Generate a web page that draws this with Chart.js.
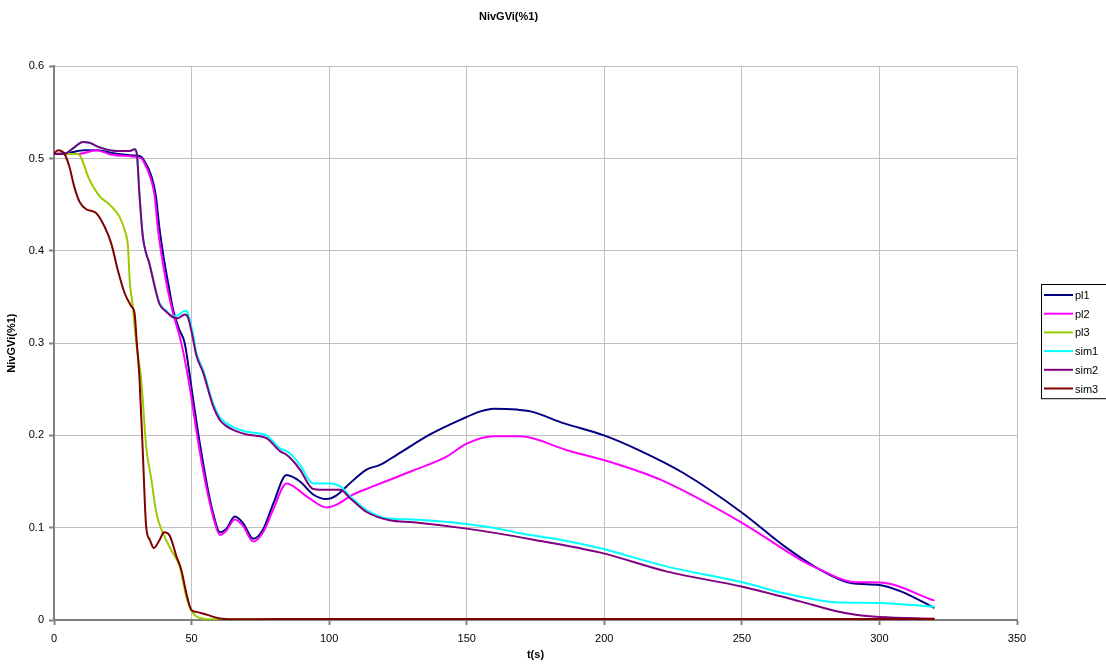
<!DOCTYPE html>
<html>
<head>
<meta charset="utf-8">
<title>NivGVi(%1)</title>
<script src="https://cdn.jsdelivr.net/npm/chart.js@4"></script>
<style>
  html, body { margin: 0; padding: 0; background: #ffffff; }
  #wrap { width: 1106px; height: 665px; }
</style>
</head>
<body>
<div id="wrap"><canvas id="c" width="1106" height="665"></canvas></div>
<script>
// Series: time (s) and level for each run
const pl1T = [0,5,11,16,21,26,30,31.5,32.5,35.5,37,38.3,40,41.8,43.3,45.5,47.5,49.9,52,54.2,56,57.8,60.3,62.7,65.7,68.7,72.4,76,79.7,84.5,89.4,94.2,99,102.7,106.4,113.6,118.5,124.6,136.7,147.8,155,159.8,168.3,173.2,185.4,199.9,213.3,228.9,250.2,265.4,277.5,289.7,300,307.8,320];
const pl1V = [0.505,0.506,0.509,0.509,0.506,0.504,0.503,0.502,0.499,0.480,0.460,0.425,0.390,0.360,0.336,0.315,0.300,0.253,0.210,0.170,0.140,0.116,0.095,0.099,0.112,0.105,0.088,0.098,0.126,0.157,0.150,0.136,0.131,0.135,0.145,0.163,0.168,0.179,0.201,0.217,0.226,0.229,0.228,0.226,0.213,0.200,0.183,0.159,0.116,0.080,0.056,0.040,0.038,0.031,0.013];

const pl2T = [0,5,9.3,15.3,21,28.7,31.7,32.3,35.3,36.6,37.8,39.6,41.4,43.3,45.7,47,49.3,51.7,54,56,58,60.3,62.7,65.7,68.7,72.4,76,79.7,84.5,91.8,99,102.7,108.8,116.1,130.6,142.7,150,159.8,169.4,186.4,203.5,220.4,250.2,271.5,277.5,291,300,320];
const pl2V = [0.505,0.505,0.505,0.509,0.504,0.502,0.500,0.498,0.477,0.459,0.423,0.386,0.357,0.332,0.307,0.290,0.253,0.206,0.165,0.135,0.110,0.092,0.097,0.109,0.102,0.085,0.095,0.120,0.148,0.134,0.122,0.125,0.136,0.145,0.162,0.177,0.191,0.199,0.199,0.184,0.170,0.152,0.105,0.065,0.056,0.041,0.0407,0.021];

const pl3T = [0,8.7,12.9,16.6,20.2,23.8,25.7,26.9,27.5,28.5,29.9,31.7,33.5,35.4,37.2,39.6,43.3,45.7,48.1,49.9,52.9,57.8,70,100,150,200,250,300,320];
const pl3V = [0.505,0.505,0.477,0.459,0.450,0.437,0.422,0.404,0.368,0.343,0.300,0.260,0.188,0.152,0.116,0.094,0.072,0.058,0.025,0.0103,0.0023,0.0007,0.0008,0.001,0.001,0.001,0.001,0.001,0.001];

const sim1T = [0,3.8,6.9,10.5,12.9,16.6,20.2,27.5,29.3,30.1,31.1,32.3,33.5,34.5,37.2,38.4,40.8,43.3,45.1,47.5,48.7,50.5,51.7,54.2,57.8,60.2,62.7,65.1,70,77.2,82.1,84.5,87,89.4,94.2,100.3,104,107.6,113.6,121,130.6,140.3,150,159.8,169.4,184,198.6,222.9,250.2,265.4,277.5,283.6,299.9,320];
const sim1V = [0.505,0.505,0.511,0.518,0.517,0.512,0.509,0.508,0.510,0.505,0.459,0.415,0.397,0.388,0.354,0.343,0.335,0.329,0.330,0.335,0.332,0.310,0.290,0.271,0.235,0.220,0.213,0.209,0.204,0.200,0.186,0.183,0.177,0.168,0.148,0.148,0.145,0.134,0.119,0.110,0.109,0.107,0.104,0.100,0.094,0.087,0.0777,0.0578,0.0408,0.0289,0.0217,0.0192,0.0185,0.0144];

const sim2T = [0,3.8,6.9,10.5,12.9,16.6,20.2,27.5,29.3,30.1,31.1,32.3,33.5,34.5,37.2,38.4,40.8,43.3,45.1,47.5,48.7,50.5,51.7,54.2,57.8,60.2,62.7,65.1,70,77.2,82.1,84.5,87,89.4,94.2,100.3,104,107.6,113.6,122,130.6,150,174.3,198.6,222.9,250.2,271.5,283.6,292,300,320];
const sim2V = [0.505,0.505,0.511,0.518,0.517,0.512,0.509,0.508,0.510,0.505,0.459,0.415,0.397,0.388,0.354,0.342,0.334,0.328,0.327,0.331,0.328,0.305,0.287,0.268,0.232,0.217,0.210,0.206,0.201,0.197,0.183,0.179,0.172,0.163,0.142,0.141,0.141,0.132,0.117,0.108,0.106,0.099,0.087,0.073,0.0524,0.036,0.0199,0.0101,0.0054,0.0033,0.0014];

const sim3T = [0,1.4,3.8,5.6,7.4,9.3,11.7,15.3,18.4,20.8,23.2,25.7,28.1,29.3,30.1,31.1,32.3,33.5,34.8,36.3,38.4,40,42.1,44.5,46.3,48.1,49.9,51.7,55.4,60.2,65.1,80,100,150,200,250,300,320];
const sim3V = [0.505,0.509,0.505,0.491,0.469,0.453,0.445,0.441,0.426,0.408,0.379,0.354,0.340,0.332,0.300,0.260,0.180,0.101,0.087,0.078,0.087,0.095,0.091,0.069,0.054,0.029,0.011,0.0088,0.0058,0.0017,0.0008,0.001,0.001,0.001,0.001,0.001,0.001,0.001];

const seriesNames = ['pl1','pl2','pl3','sim1','sim2','sim3'];
const seriesColors = ['#000080','#ff00ff','#99cc00','#00ffff','#800080','#800000'];
const xTicks = [0,50,100,150,200,250,300,350];
const yTicks = [0,0.1,0.2,0.3,0.4,0.5,0.6];

const seriesT = [pl1T, pl2T, pl3T, sim1T, sim2T, sim3T];
const seriesV = [pl1V, pl2V, pl3V, sim1V, sim2V, sim3V];

const FONT = '"Liberation Sans", Arial, sans-serif';

const datasets = seriesNames.map((name, i) => ({
  label: name,
  data: seriesT[i].map((t, k) => ({ x: t, y: seriesV[i][k] })),
  borderColor: seriesColors[i],
  backgroundColor: seriesColors[i],
  borderWidth: 2,
  pointRadius: 0,
  fill: false,
  cubicInterpolationMode: 'monotone',
  order: seriesNames.length - i
}));

// Boxed legend at the right of the plot
const boxLegend = {
  id: 'boxLegend',
  afterDraw(chart) {
    const ctx = chart.ctx;
    const left = 1041, top = 284, w = 80, rowH = 18.7;
    const n = chart.data.datasets.length;
    const h = n * rowH + 2;
    ctx.save();
    ctx.strokeStyle = '#000000';
    ctx.lineWidth = 1;
    ctx.strokeRect(left + 0.5, top + 0.5, w, h);
    ctx.font = '11px ' + FONT;
    ctx.textBaseline = 'middle';
    ctx.textAlign = 'left';
    chart.data.datasets.forEach((ds, i) => {
      const y = top + 11 + i * rowH;
      ctx.strokeStyle = ds.borderColor;
      ctx.lineWidth = 2;
      ctx.beginPath();
      ctx.moveTo(left + 3, y);
      ctx.lineTo(left + 32, y);
      ctx.stroke();
      ctx.fillStyle = '#000000';
      ctx.fillText(ds.label, left + 34, y + 1);
    });
    ctx.restore();
  }
};

new Chart(document.getElementById('c'), {
  type: 'line',
  data: { datasets },
  plugins: [boxLegend],
  options: {
    responsive: false,
    animation: false,
    events: [],
    layout: { padding: { left: 0, right: 89, top: 0, bottom: 0 } },
    plugins: {
      legend: { display: false },
      tooltip: { enabled: false },
      title: {
        display: true,
        text: 'NivGVi(%1)',
        color: '#000000',
        font: { family: FONT, size: 11, weight: 'bold' },
        padding: { top: 10, bottom: 43 }
      }
    },
    scales: {
      x: {
        type: 'linear',
        min: 0,
        max: 350,
        afterBuildTicks(scale) { scale.ticks = xTicks.map(v => ({ value: v })); },
        afterFit(scale) { scale.height = 45; },
        ticks: {
          color: '#000000',
          font: { family: FONT, size: 11 },
          padding: 7,
          maxRotation: 0,
          callback: v => String(v)
        },
        grid: { color: '#c0c0c0', lineWidth: 1, tickLength: 5, tickColor: '#808080', tickWidth: 2 },
        border: { color: '#808080', width: 2 },
        title: {
          display: true,
          text: 't(s)',
          color: '#000000',
          font: { family: FONT, size: 11, weight: 'bold' },
          padding: { top: 0, bottom: 3 }
        }
      },
      y: {
        type: 'linear',
        min: 0,
        max: 0.6,
        afterBuildTicks(scale) { scale.ticks = yTicks.map(v => ({ value: v })); },
        afterFit(scale) { scale.width = 54; },
        ticks: {
          color: '#000000',
          font: { family: FONT, size: 11 },
          padding: 5,
          callback: v => (v === 0 ? '0' : Number(v).toFixed(1))
        },
        grid: { color: '#c0c0c0', lineWidth: 1, tickLength: 5, tickColor: '#808080', tickWidth: 2 },
        border: { color: '#808080', width: 2 },
        title: {
          display: true,
          text: 'NivGVi(%1)',
          color: '#000000',
          font: { family: FONT, size: 11, weight: 'bold' },
          padding: { top: 5, bottom: 0 }
        }
      }
    }
  }
});
</script>
</body>
</html>
